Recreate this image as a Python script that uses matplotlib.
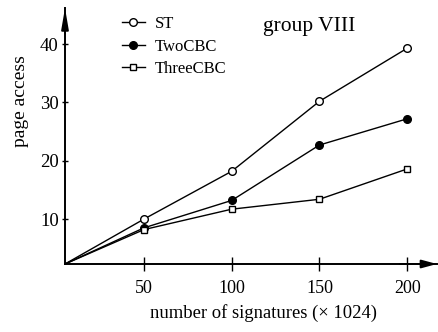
import matplotlib
matplotlib.use("Agg")
import matplotlib.pyplot as plt

plt.rcParams['font.family'] = ['Liberation Serif', 'DejaVu Serif']

# data
x_vals = [5, 50, 100, 150, 200]
st = [2.3, 10.0, 18.2, 30.2, 39.3]
two_cbc = [2.3, 8.5, 13.2, 22.7, 27.2]
three_cbc = [2.3, 8.2, 11.7, 13.4, 18.6]
x_ticks = [50, 100, 150, 200]
y_ticks = [10, 20, 30, 40]
title = "group VIII"
x_label = "number of signatures (\u00d7 1024)"
y_label = "page access"

W, H = 438, 332
fig = plt.figure(figsize=(W / 100, H / 100), dpi=100)
ax = fig.add_axes([65 / W, (H - 264) / H, (437 - 65) / W, (264 - 8) / H])
ax.set_xlim(5, 217)
ax.set_ylim(2.3, 46.2)

lw = 1.0
mk = [1, 2, 3, 4]
ax.plot(x_vals, st, '-', color='black', lw=lw, marker='o', ms=5.5,
        mfc='white', mec='black', mew=1.0, label='ST', markevery=mk,
        clip_on=False)
ax.plot(x_vals, two_cbc, '-', color='black', lw=lw, marker='o', ms=5.5,
        mfc='black', mec='black', label='TwoCBC', markevery=mk,
        clip_on=False)
ax.plot(x_vals, three_cbc, '-', color='black', lw=lw, marker='s', ms=5,
        mfc='white', mec='black', mew=1.0, label='ThreeCBC', markevery=mk,
        clip_on=False)

for s in ['top', 'right']:
    ax.spines[s].set_visible(False)
for s in ['left', 'bottom']:
    ax.spines[s].set_linewidth(1.4)

ax.set_xticks(x_ticks)
ax.set_xticklabels([str(v) for v in x_ticks], fontsize=13)
ax.set_yticks(y_ticks)
ax.set_yticklabels([str(v) for v in y_ticks], fontsize=13.5)
ax.tick_params(axis='x', direction='inout', length=10.5, width=1.0, pad=6)
ax.tick_params(axis='y', direction='inout', length=5, width=1.0, pad=2)

# axis arrows
ax.annotate('', xy=(1.0, 0), xytext=(0.9, 0), xycoords='axes fraction',
            arrowprops=dict(arrowstyle='-|>,head_length=1.3,head_width=0.35',
                            color='black', lw=1.4, mutation_scale=7,
                            shrinkA=0, shrinkB=0))
ax.annotate('', xy=(0, 1.0), xytext=(0, 0.9), xycoords='axes fraction',
            arrowprops=dict(arrowstyle='-|>,head_length=1.75,head_width=0.3',
                            color='black', lw=1.4, mutation_scale=7,
                            shrinkA=0, shrinkB=0))

fig.text(309 / W, 1 - 27 / H, title, fontsize=15.5, ha='center', va='center')
fig.text(264 / W, 1 - 313 / H, x_label, fontsize=13.4, ha='center', va='center')
fig.text(21 / W, 1 - 101 / H, y_label, fontsize=14, ha='center', va='center',
         rotation=90)

ax.legend(loc='upper left', bbox_to_anchor=(122 / W, 1 - 16 / H),
          bbox_transform=fig.transFigure, frameon=False, fontsize=12,
          handlelength=1.35, handletextpad=0.6, borderpad=0,
          borderaxespad=0, labelspacing=0.4)

fig.savefig('out.png', dpi=100)
